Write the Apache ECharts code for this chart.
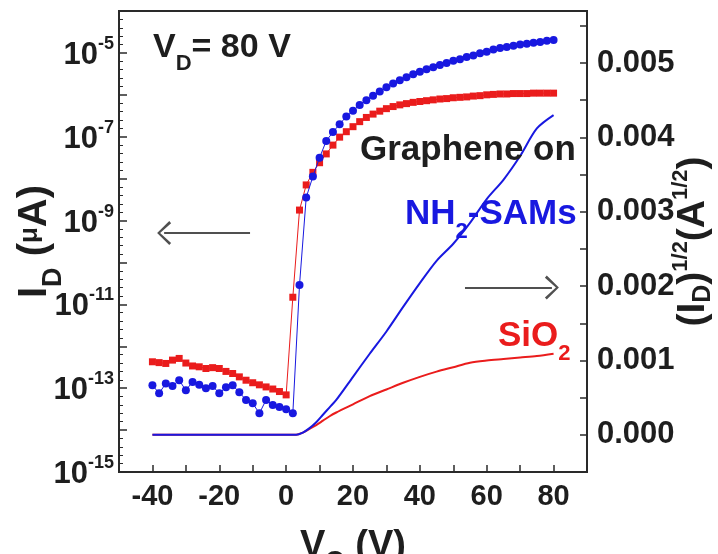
<!DOCTYPE html>
<html>
<head>
<meta charset="utf-8">
<script src="https://cdn.jsdelivr.net/npm/echarts@6/dist/echarts.min.js"></script>
<style>html,body{margin:0;padding:0;background:#fff;}#c{width:718px;height:554px;}</style>
</head>
<body>
<div id="c"></div>
<script>
// Gate voltage (V) for the log-scale transfer curves
var vgLog = [-40,-38,-36,-34,-32,-30,-28,-26,-24,-22,-20,-18,-16,-14,-12,-10,-8,-6,-4,-2,0,
  2,4,6,8,10,12,14,16,18,20,22,24,26,28,30,32,34,36,38,40,42,44,46,48,50,52,54,56,58,60,
  62,64,66,68,70,72,74,76,78,80];
// log10 of I_D, graphene on SiO2 (red squares)
var logIdSiO2 = [-12.37,-12.39,-12.41,-12.33,-12.29,-12.40,-12.47,-12.49,-12.53,-12.51,-12.53,
  -12.60,-12.65,-12.73,-12.81,-12.87,-12.92,-12.97,-13.02,-13.08,-13.16,
  -10.83,-8.75,-8.15,-7.85,-7.62,-7.41,-7.20,-7.01,-6.88,-6.76,-6.64,-6.54,-6.46,-6.39,-6.33,
  -6.28,-6.24,-6.21,-6.18,-6.16,-6.14,-6.12,-6.10,-6.09,-6.07,-6.06,-6.05,-6.03,-6.02,-6.00,
  -5.99,-5.98,-5.98,-5.97,-5.97,-5.97,-5.96,-5.96,-5.96,-5.96];
// log10 of I_D, graphene on NH2-SAMs (blue circles)
var logIdSAM = [-12.93,-13.12,-12.89,-12.95,-12.81,-13.05,-12.85,-12.92,-13.00,-12.95,-13.12,
  -12.98,-12.93,-13.10,-13.28,-13.36,-13.60,-13.28,-13.40,-13.45,-13.50,-13.60,
  -10.54,-8.45,-7.95,-7.50,-7.10,-6.89,-6.70,-6.52,-6.38,-6.24,-6.13,-6.02,-5.92,-5.82,-5.73,
  -5.65,-5.58,-5.51,-5.45,-5.39,-5.34,-5.29,-5.24,-5.19,-5.15,-5.10,-5.06,-5.01,-4.97,
  -4.92,-4.88,-4.86,-4.83,-4.80,-4.78,-4.76,-4.74,-4.71,-4.69];
// Gate voltage (V) for the sqrt(I_D) curves
var vgSqrt = [-40,-30,-20,-10,0,3,5,7,9,11,13,15,20,25,30,35,40,45,50,55,60,65,70,75,80];
var sqrtIdSAM = [0,0,0,0,0,0,0.00003,0.00009,0.00017,0.00027,0.00037,0.00047,0.00078,0.00109,
  0.00139,0.00172,0.00204,0.00234,0.00257,0.00285,0.00317,0.00343,0.00375,0.00412,0.0043];
var sqrtIdSiO2 = [0,0,0,0,0,0,0.00003,0.00008,0.00013,0.00019,0.00025,0.0003,0.00041,0.00052,
  0.00061,0.0007,0.00078,0.00085,0.00091,0.00097,0.001,0.00102,0.00104,0.00106,0.00109];
// Tick labels
var xTickLabels = [-40,-20,0,20,40,60,80];
var leftTickExps = [-5,-7,-9,-11,-13,-15];
var rightTickLabels = [0,0.001,0.002,0.003,0.004,0.005];

function pairs(xs, ys){ return xs.map(function(x,i){ return [x, ys[i]]; }); }

var RED = '#ea1c1c', BLUE = '#1818e0', INK = '#1e1e1e';
var FF = '"Liberation Sans", Arial, sans-serif';
var chevron = 'path://M10,0 L20,13 L18.3,15 L10,3.2 L1.7,15 L0,13 Z';

var chart = echarts.init(document.getElementById('c'));
chart.setOption({
  animation: false,
  backgroundColor: '#fff',
  textStyle: {fontFamily: FF},
  grid: {left: 119, right: 131, top: 11, bottom: 82, outerBoundsMode: 'none', containLabel: false,
         show: true, borderColor: '#2a2a2a', borderWidth: 2},
  title: [
    {text: '{v|V}{d|D}{v|= 80 V}', left: 148, top: 26,
     textStyle: {rich: {
       v: {fontSize: 34, fontWeight: 'bold', color: INK, fontFamily: FF, lineHeight: 40, verticalAlign: 'top'},
       d: {fontSize: 22, fontWeight: 'bold', color: INK, fontFamily: FF, lineHeight: 40, verticalAlign: 'bottom', padding: [0,0,-4,0]}}}},
    {text: 'Graphene on', left: 355, top: 128,
     textStyle: {fontSize: 35, fontWeight: 'bold', color: INK, fontFamily: FF}},
    {text: '{t|NH}{s|2}{t|-SAMs}', left: 400, top: 192,
     textStyle: {rich: {
       t: {fontSize: 35, fontWeight: 'bold', color: BLUE, fontFamily: FF, lineHeight: 42, verticalAlign: 'top'},
       s: {fontSize: 22, fontWeight: 'bold', color: BLUE, fontFamily: FF, lineHeight: 42, verticalAlign: 'bottom', padding: [0,0,-4,0]}}}},
    {text: '{t|SiO}{s|2}', left: 493, top: 314,
     textStyle: {rich: {
       t: {fontSize: 35, fontWeight: 'bold', color: RED, fontFamily: FF, lineHeight: 42, verticalAlign: 'top'},
       s: {fontSize: 22, fontWeight: 'bold', color: RED, fontFamily: FF, lineHeight: 42, verticalAlign: 'bottom', padding: [0,0,-4,0]}}}}
  ],
  xAxis: {
    type: 'value', min: -50, max: 90, interval: 10,
    name: '{t|V}{s|G}{t| (V)}', nameLocation: 'middle', nameGap: 56, nameMoveOverlap: false,
    nameTextStyle: {rich: {
      t: {fontSize: 38, fontWeight: 'bold', color: INK, fontFamily: FF, lineHeight: 44, verticalAlign: 'top'},
      s: {fontSize: 25, fontWeight: 'bold', color: INK, fontFamily: FF, lineHeight: 44, verticalAlign: 'bottom', padding: [0,0,-3,0]}}},
    axisLine: {show: true, onZero: false, lineStyle: {color: '#2a2a2a', width: 2}},
    axisTick: {show: true, inside: true, length: 7, lineStyle: {color: '#2a2a2a', width: 1.5}},
    splitLine: {show: false},
    axisLabel: {margin: 10, fontSize: 29, fontWeight: 'bold', color: INK, fontFamily: FF,
      formatter: function(v){ return xTickLabels.indexOf(Math.round(v)) >= 0 ? String(Math.round(v)) : ''; }}
  },
  yAxis: [
    {
      type: 'value', min: -15, max: -4, interval: 1, position: 'left',
      name: '{t|I}{s|D}{t| (}{m|μ}{t|A)}', nameLocation: 'middle', nameGap: 58, nameMoveOverlap: false,
      nameTextStyle: {rich: {
        t: {fontSize: 40, fontWeight: 'bold', color: INK, fontFamily: FF, lineHeight: 46, verticalAlign: 'top'},
        s: {fontSize: 27, fontWeight: 'bold', color: INK, fontFamily: FF, lineHeight: 46, verticalAlign: 'bottom', padding: [0,0,-6,0]},
        m: {fontSize: 26, fontWeight: 'bold', color: INK, fontFamily: FF, lineHeight: 46, verticalAlign: 'top', padding: [2,0,0,0]}}},
      axisLine: {show: true, onZero: false, lineStyle: {color: '#2a2a2a', width: 2}},
      axisTick: {show: true, inside: true, length: 8, lineStyle: {color: '#2a2a2a', width: 1.5}},
      minorTick: {show: true, splitNumber: 5, length: 4, lineStyle: {color: '#2a2a2a', width: 1}},
      splitLine: {show: false},
      axisLabel: {margin: 5, color: INK,
        formatter: function(v){ var e = Math.round(v); return leftTickExps.indexOf(e) >= 0 ? '{b|10}{s|' + e + '}' : ''; },
        rich: {
          b: {fontSize: 31, fontWeight: 'bold', color: INK, fontFamily: FF, lineHeight: 36, verticalAlign: 'bottom'},
          s: {fontSize: 18, fontWeight: 'bold', color: INK, fontFamily: FF, lineHeight: 36, verticalAlign: 'top'}}}
    },
    {
      type: 'value', min: -0.0005, max: 0.0057, interval: 0.0005, position: 'right',
      name: '{t|(I}{s|D}{t|)}{p|1/2}{t|(A}{p|1/2}{t|)}', nameLocation: 'middle', nameGap: 83, nameMoveOverlap: false,
      nameTextStyle: {rich: {
        t: {fontSize: 39, fontWeight: 'bold', color: INK, fontFamily: FF, lineHeight: 46, verticalAlign: 'middle'},
        s: {fontSize: 25, fontWeight: 'bold', color: INK, fontFamily: FF, lineHeight: 46, verticalAlign: 'bottom'},
        p: {fontSize: 22, fontWeight: 'bold', color: INK, fontFamily: FF, lineHeight: 46, verticalAlign: 'top'}}},
      axisLine: {show: true, onZero: false, lineStyle: {color: '#2a2a2a', width: 2}},
      axisTick: {show: true, inside: true, length: 7, lineStyle: {color: '#2a2a2a', width: 1.5}},
      splitLine: {show: false},
      axisLabel: {margin: 10, fontSize: 31, fontWeight: 'bold', color: INK, fontFamily: FF,
        formatter: function(v){
          for (var i = 0; i < rightTickLabels.length; i++) { if (Math.abs(v - rightTickLabels[i]) < 1e-9) return rightTickLabels[i].toFixed(3); }
          return '';
        }}
    }
  ],
  series: [
    {name: 'SiO2 sqrt', type: 'line', yAxisIndex: 1, data: pairs(vgSqrt, sqrtIdSiO2), showSymbol: false, symbol: 'none',
     smooth: 0.3, lineStyle: {color: RED, width: 2}, itemStyle: {color: RED}, z: 2,
     markLine: {silent: true, symbol: ['none', chevron], symbolSize: [24, 14], label: {show: false},
       lineStyle: {color: '#505050', width: 2, type: 'solid'},
       data: [[{coord: [53.5, 0.00198]}, {coord: [79.5, 0.00198]}]]}},
    {name: 'NH2 sqrt', type: 'line', yAxisIndex: 1, data: pairs(vgSqrt, sqrtIdSAM), showSymbol: false, symbol: 'none',
     smooth: 0.3, lineStyle: {color: BLUE, width: 2}, itemStyle: {color: BLUE}, z: 3},
    {name: 'SiO2 log', type: 'line', yAxisIndex: 0, data: pairs(vgLog, logIdSiO2), symbol: 'rect', symbolSize: 7,
     lineStyle: {color: RED, width: 1}, itemStyle: {color: RED}, z: 4,
     markLine: {silent: true, symbol: ['none', chevron], symbolSize: [24, 14], label: {show: false},
       lineStyle: {color: '#505050', width: 2, type: 'solid'},
       data: [[{coord: [-10.8, -9.3]}, {coord: [-36.5, -9.3]}]]}},
    {name: 'NH2 log', type: 'line', yAxisIndex: 0, data: pairs(vgLog, logIdSAM), symbol: 'circle', symbolSize: 8,
     lineStyle: {color: BLUE, width: 1}, itemStyle: {color: BLUE}, z: 5}
  ]
});
</script>
</body>
</html>
